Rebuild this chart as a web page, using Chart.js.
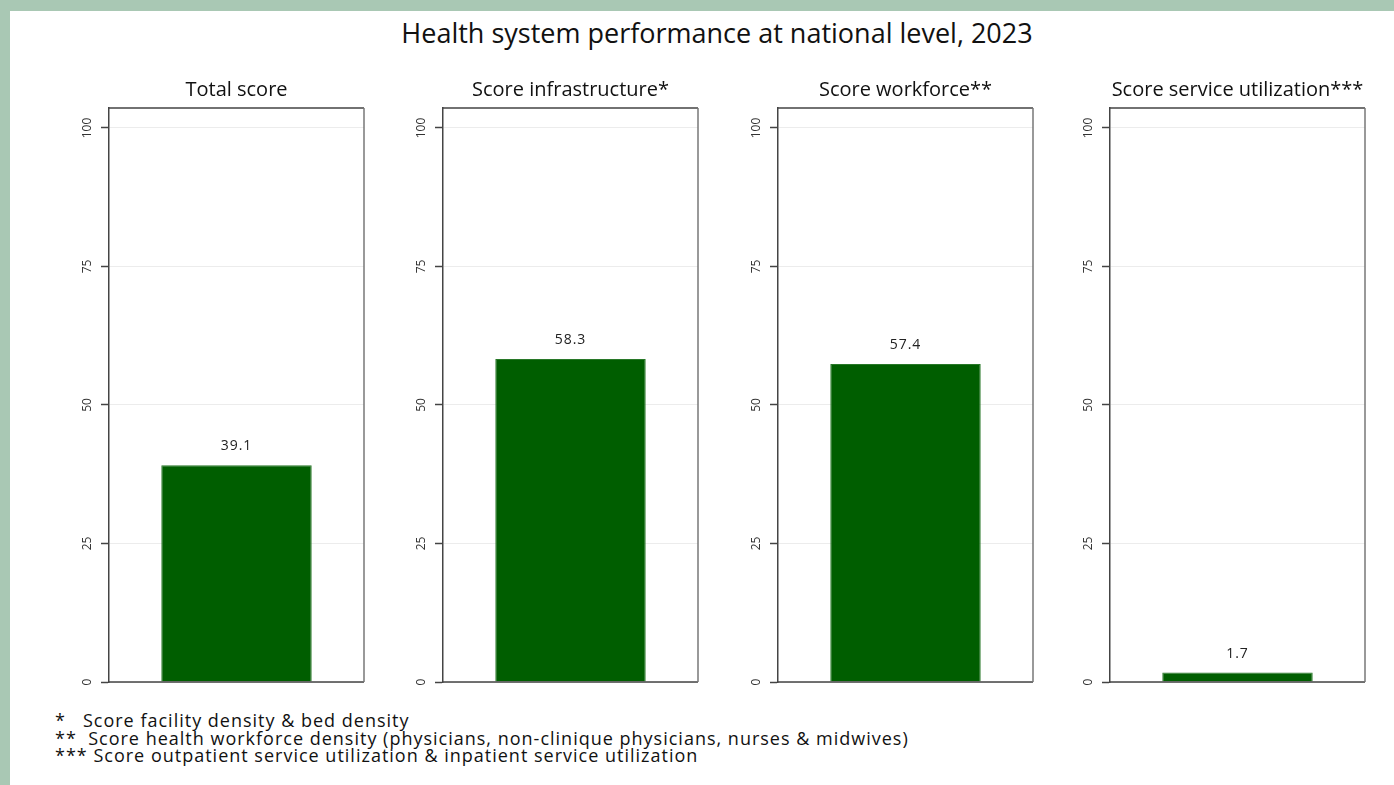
<!DOCTYPE html>
<html>
<head>
<meta charset="utf-8">
<script src="https://cdn.jsdelivr.net/npm/chart.js@4.4.0/dist/chart.umd.min.js"></script>
<style>
  html, body { margin: 0; padding: 0; }
  body { width: 1394px; height: 785px; background: #a9c8b4; position: relative; overflow: hidden; font-family: "Open Sans", sans-serif; }
  #sheet { position: absolute; left: 10px; top: 11px; width: 1394px; height: 785px; background: #fff; }
  #mainTitle { position: absolute; left: 0; top: 14px; width: 1434px; text-align: center; font-size: 27px; line-height: 38px; color: #111; }
  .panel { position: absolute; top: 70px; width: 315px; height: 620px; }
  #notes { position: absolute; left: 55px; top: 712px; font-size: 18px; letter-spacing: 1px; line-height: 17.5px; color: #111; white-space: pre; }
</style>
</head>
<body>
<div id="sheet"></div>
<div id="mainTitle">Health system performance at national level, 2023</div>
<div class="panel" style="left:59px"><canvas id="c0"></canvas></div>
<div class="panel" style="left:393px"><canvas id="c1"></canvas></div>
<div class="panel" style="left:728px"><canvas id="c2"></canvas></div>
<div class="panel" style="left:1060px"><canvas id="c3"></canvas></div>
<div id="notes">*   Score facility density &amp; bed density
**  Score health workforce density (physicians, non-clinique physicians, nurses &amp; midwives)
*** Score outpatient service utilization &amp; inpatient service utilization</div>
<script>
// Datos de cada panel
const panelTitles = ['Total score', 'Score infrastructure*', 'Score workforce**', 'Score service utilization***'];
const scores = [39.1, 58.3, 57.4, 1.7];
const yTicks = [0, 25, 50, 75, 100];

const barColor = 'rgb(0, 94, 0)';

// Etiqueta de valor encima de la barra
const valueLabels = {
  id: 'valueLabels',
  afterDatasetsDraw(chart) {
    const ctx = chart.ctx;
    const meta = chart.getDatasetMeta(0);
    ctx.save();
    ctx.font = '14px "Open Sans", sans-serif';
    ctx.letterSpacing = '1px';
    ctx.fillStyle = '#222';
    ctx.textAlign = 'center';
    ctx.textBaseline = 'middle';
    meta.data.forEach(function(bar, i) {
      const v = chart.data.datasets[0].data[i];
      ctx.fillText(v.toFixed(1), bar.x, bar.y - 19);
    });
    ctx.restore();
  }
};

// Marco alrededor del área del gráfico
const frame = {
  id: 'frame',
  afterDraw(chart) {
    const a = chart.chartArea;
    const ctx = chart.ctx;
    ctx.save();
    ctx.lineWidth = 1.5;
    ctx.strokeStyle = '#444';
    ctx.beginPath();
    ctx.moveTo(a.left, a.top);
    ctx.lineTo(a.right, a.top);
    ctx.moveTo(a.left, a.bottom);
    ctx.lineTo(a.right, a.bottom);
    ctx.stroke();
    ctx.strokeStyle = '#777';
    ctx.beginPath();
    ctx.moveTo(a.right, a.top);
    ctx.lineTo(a.right, a.bottom);
    ctx.stroke();
    ctx.restore();
  }
};

scores.forEach(function(score, index) {
  const ctx = document.getElementById('c' + index).getContext('2d');
  new Chart(ctx, {
    type: 'bar',
    data: {
      labels: [panelTitles[index]],
      datasets: [{
        data: [score],
        backgroundColor: barColor,
        borderColor: 'rgb(40, 120, 40)',
        borderWidth: 1,
        categoryPercentage: 1,
        barPercentage: 0.59
      }]
    },
    options: {
      responsive: true,
      maintainAspectRatio: false,
      animation: false,
      layout: { padding: { left: 0, right: 10, top: 0, bottom: 8 } },
      plugins: {
        legend: { display: false },
        tooltip: { enabled: false },
        title: {
          display: true,
          fullSize: false,
          text: panelTitles[index],
          color: '#111',
          font: { family: '"Open Sans", sans-serif', size: 20, weight: 'normal' },
          padding: { top: 8, bottom: 6 }
        }
      },
      scales: {
        x: { display: false },
        y: {
          min: 0,
          max: 103.6,
          afterBuildTicks: function(s) { s.ticks = yTicks.map(v => ({ value: v })); },
          afterFit: function(s) { s.width = 50; s.paddingTop = 0; s.paddingBottom = 0; },
          border: { display: true, color: '#444', width: 1.5 },
          grid: { color: '#ececec', tickLength: 8, tickColor: '#444', tickWidth: 1.5 },
          ticks: {
            minRotation: 90,
            maxRotation: 90,
            crossAlign: 'center',
            padding: 3,
            color: '#333',
            font: { family: '"Open Sans", sans-serif', size: 12 }
          }
        }
      }
    },
    plugins: [valueLabels, frame]
  });
});
</script>
</body>
</html>
